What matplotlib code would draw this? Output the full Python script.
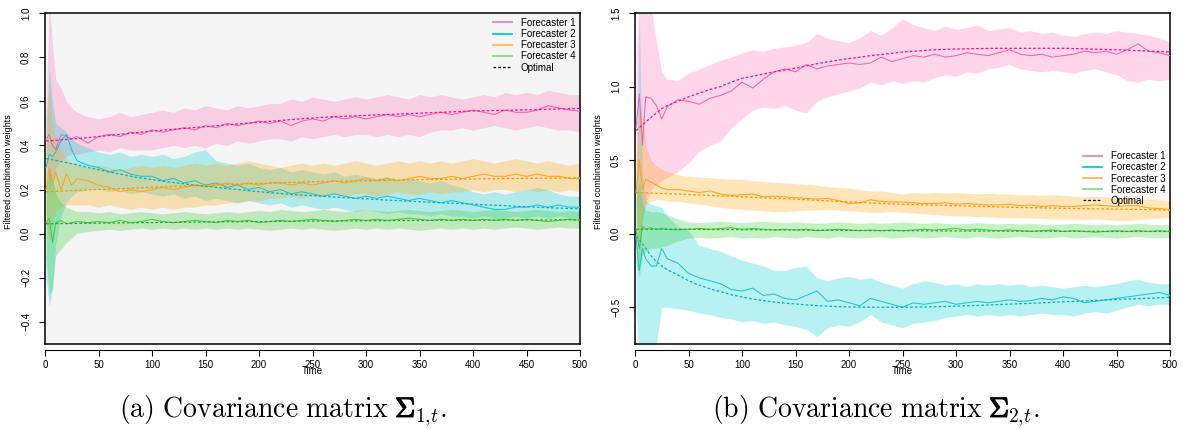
import matplotlib
matplotlib.use("Agg")
import matplotlib.pyplot as plt
from matplotlib import patheffects as pe
from matplotlib.lines import Line2D

plt.rcParams['font.family'] = ['Liberation Sans', 'DejaVu Sans']
plt.rcParams['mathtext.fontset'] = 'cm'

# ---------------- data ----------------
T = [1, 4, 7, 10, 15, 20, 25, 30,
     40, 50, 60, 70, 80, 90, 100, 110, 120, 130,
     140, 150, 160, 170, 180, 190, 200, 210, 220, 230,
     240, 250, 260, 270, 280, 290, 300, 310, 320, 330,
     340, 350, 360, 370, 380, 390, 400, 410, 420, 430,
     440, 450, 460, 470, 480, 490, 500]

x_ticks = [0, 50, 100, 150, 200, 250, 300, 350, 400, 450, 500]
labels = ["Forecaster 1", "Forecaster 2", "Forecaster 3", "Forecaster 4"]

# ---- panel (a): covariance matrix Sigma_1,t ----
L_f1_opt = [0.420, 0.421, 0.422, 0.423, 0.425, 0.427, 0.429, 0.431,
            0.435, 0.440, 0.445, 0.450, 0.455, 0.460, 0.465, 0.469, 0.473, 0.477,
            0.481, 0.485, 0.489, 0.493, 0.497, 0.501, 0.505, 0.509, 0.513, 0.517,
            0.521, 0.524, 0.527, 0.530, 0.532, 0.534, 0.536, 0.538, 0.540, 0.542,
            0.544, 0.546, 0.548, 0.550, 0.552, 0.554, 0.556, 0.557, 0.558, 0.559,
            0.560, 0.561, 0.562, 0.564, 0.565, 0.566, 0.568]
L_f1_mean = [0.43, 0.45, 0.40, 0.38, 0.45, 0.44, 0.43, 0.44,
             0.41, 0.44, 0.45, 0.44, 0.46, 0.45, 0.47, 0.46, 0.47, 0.48,
             0.47, 0.49, 0.48, 0.50, 0.49, 0.50, 0.51, 0.50, 0.51, 0.49,
             0.51, 0.52, 0.51, 0.53, 0.52, 0.53, 0.52, 0.53, 0.54, 0.53,
             0.54, 0.53, 0.54, 0.55, 0.54, 0.55, 0.56, 0.55, 0.54, 0.56,
             0.55, 0.55, 0.56, 0.58, 0.57, 0.56, 0.555]
L_f1_lo = [0.36, 0.20, 0.25, 0.30, 0.33, 0.35, 0.36, 0.36,
           0.37, 0.38, 0.37, 0.39, 0.38, 0.38, 0.38, 0.39, 0.40, 0.39,
           0.40, 0.39, 0.41, 0.40, 0.42, 0.41, 0.42, 0.43, 0.43, 0.42,
           0.44, 0.43, 0.44, 0.45, 0.44, 0.45, 0.45, 0.44, 0.45, 0.44,
           0.45, 0.44, 0.46, 0.47, 0.47, 0.48, 0.47, 0.48, 0.49, 0.48,
           0.47, 0.48, 0.49, 0.48, 0.47, 0.47, 0.46]
L_f1_hi = [0.55, 1.05, 0.85, 0.70, 0.66, 0.60, 0.57, 0.55,
           0.53, 0.52, 0.53, 0.55, 0.53, 0.54, 0.55, 0.56, 0.55, 0.57,
           0.56, 0.58, 0.57, 0.56, 0.58, 0.57, 0.58, 0.59, 0.59, 0.61,
           0.60, 0.62, 0.61, 0.60, 0.61, 0.62, 0.61, 0.62, 0.63, 0.62,
           0.61, 0.63, 0.62, 0.63, 0.62, 0.61, 0.62, 0.63, 0.62, 0.64,
           0.63, 0.64, 0.63, 0.65, 0.64, 0.63, 0.63]

L_f2_opt = [0.340, 0.338, 0.335, 0.332, 0.327, 0.322, 0.317, 0.312,
            0.300, 0.290, 0.280, 0.270, 0.260, 0.252, 0.245, 0.238, 0.232, 0.226,
            0.220, 0.215, 0.210, 0.205, 0.200, 0.195, 0.190, 0.186, 0.182, 0.178,
            0.175, 0.172, 0.169, 0.166, 0.163, 0.160, 0.158, 0.155, 0.152, 0.150,
            0.147, 0.145, 0.143, 0.140, 0.138, 0.136, 0.134, 0.131, 0.129, 0.127,
            0.124, 0.122, 0.120, 0.118, 0.116, 0.114, 0.112]
L_f2_mean = [0.30, 0.36, 0.35, 0.37, 0.42, 0.45, 0.38, 0.33,
             0.31, 0.30, 0.28, 0.29, 0.27, 0.26, 0.26, 0.24, 0.25, 0.23,
             0.24, 0.22, 0.23, 0.21, 0.22, 0.20, 0.21, 0.19, 0.20, 0.18,
             0.19, 0.18, 0.17, 0.18, 0.17, 0.16, 0.17, 0.16, 0.17, 0.16,
             0.15, 0.16, 0.15, 0.14, 0.15, 0.14, 0.13, 0.12, 0.11, 0.11,
             0.12, 0.12, 0.13, 0.12, 0.13, 0.12, 0.12]
L_f2_lo = [-0.20, -0.33, -0.25, -0.05, 0.08, 0.14, 0.17, 0.19,
           0.20, 0.20, 0.19, 0.20, 0.18, 0.19, 0.18, 0.17, 0.18, 0.16,
           0.17, 0.15, 0.16, 0.15, 0.14, 0.15, 0.14, 0.13, 0.14, 0.12,
           0.13, 0.12, 0.11, 0.12, 0.11, 0.10, 0.11, 0.10, 0.09, 0.10,
           0.09, 0.09, 0.08, 0.09, 0.08, 0.08, 0.07, 0.08, 0.07, 0.07,
           0.08, 0.07, 0.08, 0.07, 0.08, 0.07, 0.07]
L_f2_hi = [0.50, 0.75, 0.60, 0.50, 0.48, 0.46, 0.43, 0.41,
           0.39, 0.37, 0.36, 0.37, 0.35, 0.36, 0.35, 0.36, 0.34, 0.35,
           0.37, 0.38, 0.33, 0.32, 0.31, 0.32, 0.30, 0.29, 0.30, 0.28,
           0.29, 0.28, 0.27, 0.28, 0.26, 0.27, 0.26, 0.25, 0.26, 0.24,
           0.25, 0.24, 0.23, 0.24, 0.22, 0.21, 0.19, 0.18, 0.19, 0.18,
           0.19, 0.20, 0.21, 0.20, 0.18, 0.17, 0.17]

L_f3_opt = [0.190, 0.190, 0.191, 0.192, 0.193, 0.194, 0.195, 0.196,
            0.198, 0.200, 0.202, 0.204, 0.206, 0.208, 0.210, 0.212, 0.214, 0.216,
            0.218, 0.220, 0.221, 0.223, 0.224, 0.226, 0.228, 0.229, 0.231, 0.232,
            0.234, 0.235, 0.236, 0.237, 0.238, 0.239, 0.240, 0.241, 0.242, 0.243,
            0.244, 0.245, 0.245, 0.246, 0.247, 0.247, 0.248, 0.249, 0.249, 0.250,
            0.250, 0.251, 0.251, 0.252, 0.252, 0.253, 0.253]
L_f3_mean = [0.20, 0.30, 0.22, 0.28, 0.20, 0.27, 0.22, 0.25,
             0.24, 0.22, 0.21, 0.19, 0.20, 0.19, 0.20, 0.21, 0.20, 0.21,
             0.22, 0.21, 0.22, 0.23, 0.22, 0.23, 0.22, 0.23, 0.23, 0.22,
             0.23, 0.22, 0.23, 0.24, 0.23, 0.24, 0.25, 0.24, 0.25, 0.24,
             0.25, 0.26, 0.25, 0.25, 0.26, 0.25, 0.26, 0.27, 0.26, 0.26,
             0.27, 0.26, 0.27, 0.26, 0.26, 0.25, 0.25]
L_f3_lo = [0.08, -0.05, 0.05, 0.10, 0.12, 0.13, 0.13, 0.13,
           0.13, 0.12, 0.13, 0.12, 0.11, 0.12, 0.11, 0.12, 0.11, 0.12,
           0.12, 0.13, 0.13, 0.14, 0.14, 0.15, 0.15, 0.16, 0.16, 0.17,
           0.16, 0.17, 0.17, 0.18, 0.17, 0.18, 0.18, 0.17, 0.18, 0.19,
           0.18, 0.18, 0.19, 0.18, 0.19, 0.19, 0.20, 0.19, 0.20, 0.20,
           0.19, 0.20, 0.19, 0.20, 0.19, 0.20, 0.19]
L_f3_hi = [0.40, 0.68, 0.50, 0.42, 0.38, 0.34, 0.32, 0.31,
           0.30, 0.31, 0.30, 0.29, 0.30, 0.31, 0.30, 0.31, 0.30, 0.31,
           0.32, 0.31, 0.32, 0.31, 0.32, 0.33, 0.32, 0.31, 0.30, 0.31,
           0.32, 0.31, 0.32, 0.31, 0.32, 0.33, 0.32, 0.31, 0.32, 0.33,
           0.32, 0.33, 0.32, 0.33, 0.32, 0.33, 0.34, 0.33, 0.32, 0.33,
           0.34, 0.33, 0.32, 0.33, 0.32, 0.31, 0.32]

L_f4_opt = [0.045, 0.045, 0.045, 0.046, 0.046, 0.046, 0.046, 0.047,
            0.047, 0.048, 0.048, 0.049, 0.049, 0.050, 0.050, 0.051, 0.051, 0.052,
            0.052, 0.053, 0.053, 0.054, 0.054, 0.055, 0.055, 0.055, 0.056, 0.056,
            0.057, 0.057, 0.057, 0.058, 0.058, 0.058, 0.059, 0.059, 0.059, 0.060,
            0.060, 0.060, 0.060, 0.061, 0.061, 0.061, 0.061, 0.061, 0.062, 0.062,
            0.062, 0.062, 0.062, 0.062, 0.063, 0.063, 0.063]
L_f4_mean = [0.05, 0.07, -0.04, 0.05, 0.06, 0.045, 0.05, 0.055,
             0.05, 0.055, 0.05, 0.06, 0.05, 0.055, 0.065, 0.055, 0.05, 0.055,
             0.06, 0.055, 0.05, 0.06, 0.055, 0.06, 0.05, 0.055, 0.06, 0.055,
             0.06, 0.065, 0.06, 0.055, 0.06, 0.065, 0.06, 0.065, 0.06, 0.065,
             0.07, 0.065, 0.06, 0.065, 0.06, 0.065, 0.06, 0.065, 0.06, 0.065,
             0.06, 0.065, 0.06, 0.055, 0.06, 0.065, 0.06]
L_f4_lo = [-0.10, -0.28, -0.25, -0.10, -0.07, -0.04, -0.02, 0.00,
           0.010, 0.015, 0.020, 0.015, 0.020, 0.025, 0.020, 0.025, 0.020, 0.025,
           0.020, 0.025, 0.020, 0.025, 0.020, 0.025, 0.020, 0.015, 0.020, 0.025,
           0.020, 0.025, 0.020, 0.015, 0.020, 0.025, 0.020, 0.025, 0.020, 0.025,
           0.020, 0.015, 0.020, 0.025, 0.020, 0.025, 0.020, 0.025, 0.020, 0.025,
           0.030, 0.025, 0.020, 0.025, 0.030, 0.025, 0.025]
L_f4_hi = [0.20, 0.30, 0.25, 0.18, 0.14, 0.12, 0.11, 0.10,
           0.100, 0.095, 0.100, 0.090, 0.095, 0.100, 0.095, 0.090, 0.095, 0.100,
           0.095, 0.090, 0.095, 0.100, 0.095, 0.100, 0.105, 0.100, 0.110, 0.105,
           0.100, 0.105, 0.110, 0.105, 0.100, 0.105, 0.110, 0.105, 0.100, 0.105,
           0.110, 0.105, 0.100, 0.105, 0.110, 0.105, 0.100, 0.105, 0.110, 0.105,
           0.100, 0.105, 0.110, 0.105, 0.100, 0.105, 0.100]

# ---- panel (b): covariance matrix Sigma_2,t ----
R_f1_opt = [0.70, 0.72, 0.74, 0.76, 0.79, 0.82, 0.85, 0.87,
            0.900, 0.930, 0.955, 0.980, 1.000, 1.030, 1.056, 1.070, 1.085, 1.100,
            1.113, 1.125, 1.140, 1.155, 1.168, 1.180, 1.190, 1.200, 1.210, 1.218,
            1.226, 1.235, 1.240, 1.245, 1.250, 1.253, 1.255, 1.257, 1.258, 1.259,
            1.260, 1.260, 1.260, 1.260, 1.260, 1.260, 1.260, 1.258, 1.256, 1.254,
            1.252, 1.250, 1.247, 1.244, 1.241, 1.238, 1.235]
R_f1_mean = [0.72, 0.95, 0.60, 0.93, 0.92, 0.87, 0.78, 0.86,
             0.91, 0.90, 0.88, 0.92, 0.94, 0.97, 1.03, 0.99, 1.05, 1.10,
             1.12, 1.10, 1.15, 1.12, 1.14, 1.15, 1.16, 1.15, 1.16, 1.20,
             1.17, 1.19, 1.21, 1.20, 1.22, 1.20, 1.21, 1.23, 1.22, 1.21,
             1.23, 1.25, 1.22, 1.21, 1.22, 1.20, 1.21, 1.22, 1.24, 1.23,
             1.24, 1.22, 1.25, 1.29, 1.24, 1.23, 1.21]
R_f1_lo = [0.30, -0.20, 0.10, 0.20, 0.30, 0.33, 0.36, 0.38,
           0.42, 0.48, 0.56, 0.60, 0.63, 0.72, 0.78, 0.84, 0.86, 0.85,
           0.87, 0.84, 0.82, 0.90, 0.93, 0.95, 0.97, 0.99, 1.03, 1.01,
           1.04, 1.02, 1.04, 1.03, 1.06, 1.08, 1.07, 1.10, 1.09, 1.12,
           1.13, 1.15, 1.12, 1.11, 1.10, 1.11, 1.10, 1.09, 1.11, 1.12,
           1.10, 1.08, 1.04, 1.03, 1.05, 1.04, 1.05]
R_f1_hi = [1.20, 1.60, 1.60, 1.60, 1.55, 1.30, 1.10, 1.05,
           1.04, 1.09, 1.12, 1.15, 1.18, 1.20, 1.23, 1.25, 1.24, 1.26,
           1.27, 1.28, 1.30, 1.36, 1.33, 1.31, 1.30, 1.33, 1.38, 1.35,
           1.40, 1.46, 1.42, 1.40, 1.38, 1.41, 1.39, 1.40, 1.42, 1.38,
           1.39, 1.40, 1.37, 1.38, 1.36, 1.37, 1.35, 1.34, 1.36, 1.37,
           1.36, 1.38, 1.37, 1.36, 1.35, 1.33, 1.30]

R_f2_opt = [-0.02, -0.04, -0.07, -0.10, -0.15, -0.19, -0.22, -0.245,
            -0.280, -0.320, -0.350, -0.375, -0.395, -0.415, -0.430, -0.445, -0.455, -0.465,
            -0.472, -0.478, -0.484, -0.489, -0.493, -0.496, -0.498, -0.499, -0.500, -0.500,
            -0.500, -0.500, -0.499, -0.498, -0.497, -0.495, -0.493, -0.490, -0.488, -0.485,
            -0.482, -0.479, -0.476, -0.473, -0.470, -0.467, -0.463, -0.460, -0.457, -0.454,
            -0.451, -0.448, -0.445, -0.442, -0.439, -0.436, -0.433]
R_f2_mean = [-0.02, -0.25, -0.10, -0.17, -0.22, -0.22, -0.10, -0.17,
             -0.20, -0.27, -0.30, -0.32, -0.34, -0.38, -0.39, -0.37, -0.42, -0.41,
             -0.44, -0.45, -0.42, -0.39, -0.46, -0.45, -0.47, -0.49, -0.44, -0.46,
             -0.48, -0.50, -0.47, -0.48, -0.47, -0.46, -0.48, -0.47, -0.46, -0.47,
             -0.46, -0.45, -0.46, -0.455, -0.44, -0.45, -0.43, -0.44, -0.47, -0.46,
             -0.45, -0.44, -0.43, -0.42, -0.41, -0.40, -0.42]
R_f2_lo = [-0.50, -0.90, -0.90, -0.90, -0.85, -0.75, -0.50, -0.50,
           -0.51, -0.52, -0.54, -0.55, -0.57, -0.58, -0.60, -0.59, -0.61, -0.60,
           -0.62, -0.63, -0.65, -0.70, -0.64, -0.62, -0.63, -0.60, -0.55, -0.60,
           -0.62, -0.64, -0.61, -0.60, -0.59, -0.57, -0.56, -0.55, -0.56, -0.55,
           -0.56, -0.55, -0.56, -0.55, -0.54, -0.55, -0.55, -0.56, -0.54, -0.53,
           -0.54, -0.52, -0.50, -0.48, -0.49, -0.48, -0.48]
R_f2_hi = [0.20, 1.50, 0.40, 0.22, 0.20, 0.19, 0.18, 0.12,
           0.05, 0.02, -0.08, -0.10, -0.12, -0.15, -0.18, -0.20, -0.22, -0.25,
           -0.25, -0.23, -0.22, -0.30, -0.32, -0.30, -0.29, -0.31, -0.30, -0.33,
           -0.35, -0.37, -0.34, -0.32, -0.33, -0.35, -0.34, -0.36, -0.34, -0.35,
           -0.34, -0.35, -0.34, -0.36, -0.35, -0.36, -0.37, -0.36, -0.35, -0.36,
           -0.35, -0.34, -0.32, -0.31, -0.33, -0.34, -0.34]

R_f3_opt = [0.280, 0.279, 0.278, 0.277, 0.276, 0.275, 0.274, 0.272,
            0.270, 0.266, 0.263, 0.260, 0.257, 0.254, 0.250, 0.247, 0.244, 0.241,
            0.238, 0.235, 0.231, 0.227, 0.223, 0.219, 0.215, 0.212, 0.209, 0.206,
            0.203, 0.200, 0.198, 0.196, 0.194, 0.192, 0.190, 0.188, 0.186, 0.184,
            0.182, 0.180, 0.178, 0.177, 0.175, 0.174, 0.172, 0.171, 0.170, 0.169,
            0.168, 0.167, 0.166, 0.165, 0.164, 0.162, 0.160]
R_f3_mean = [0.28, 0.50, 0.30, 0.37, 0.35, 0.33, 0.31, 0.30,
             0.30, 0.29, 0.28, 0.29, 0.27, 0.26, 0.265, 0.27, 0.25, 0.255,
             0.25, 0.245, 0.24, 0.235, 0.24, 0.225, 0.205, 0.21, 0.23, 0.22,
             0.215, 0.215, 0.21, 0.205, 0.205, 0.21, 0.20, 0.205, 0.20, 0.195,
             0.195, 0.20, 0.19, 0.195, 0.185, 0.19, 0.185, 0.185, 0.19, 0.195,
             0.19, 0.185, 0.19, 0.19, 0.175, 0.17, 0.165]
R_f3_lo = [0.10, -0.20, 0.10, 0.20, 0.22, 0.23, 0.23, 0.22,
           0.22, 0.21, 0.20, 0.19, 0.18, 0.17, 0.165, 0.16, 0.155, 0.15,
           0.15, 0.155, 0.16, 0.16, 0.165, 0.16, 0.155, 0.15, 0.145, 0.145,
           0.15, 0.145, 0.14, 0.135, 0.13, 0.125, 0.12, 0.12, 0.115, 0.115,
           0.11, 0.11, 0.11, 0.105, 0.105, 0.10, 0.10, 0.10, 0.095, 0.10,
           0.095, 0.09, 0.09, 0.095, 0.10, 0.105, 0.11]
R_f3_hi = [0.50, 0.85, 0.80, 0.60, 0.50, 0.46, 0.44, 0.42,
           0.40, 0.39, 0.385, 0.38, 0.375, 0.37, 0.37, 0.36, 0.355, 0.35,
           0.345, 0.34, 0.335, 0.33, 0.32, 0.315, 0.31, 0.30, 0.29, 0.29,
           0.28, 0.27, 0.28, 0.275, 0.28, 0.275, 0.28, 0.275, 0.27, 0.275,
           0.27, 0.27, 0.265, 0.265, 0.26, 0.265, 0.26, 0.255, 0.25, 0.255,
           0.25, 0.245, 0.24, 0.235, 0.235, 0.23, 0.225]

R_f4_opt = [0.030, 0.030, 0.030, 0.030, 0.030, 0.030, 0.030, 0.030,
            0.030, 0.030, 0.029, 0.029, 0.028, 0.028, 0.027, 0.027, 0.026, 0.026,
            0.025, 0.025, 0.024, 0.024, 0.023, 0.023, 0.022, 0.022, 0.021, 0.021,
            0.021, 0.020, 0.020, 0.020, 0.019, 0.019, 0.019, 0.018, 0.018, 0.018,
            0.018, 0.017, 0.017, 0.017, 0.017, 0.016, 0.016, 0.016, 0.016, 0.016,
            0.015, 0.015, 0.015, 0.015, 0.015, 0.015, 0.015]
R_f4_mean = [0.03, -0.10, 0.05, 0.03, 0.04, 0.03, 0.035, 0.03,
             0.025, 0.03, 0.035, 0.03, 0.035, 0.04, 0.03, 0.035, 0.03, 0.025,
             0.03, 0.025, 0.03, 0.02, 0.025, 0.03, 0.025, 0.02, 0.025, 0.02,
             0.025, 0.02, 0.025, 0.03, 0.025, 0.03, 0.035, 0.025, 0.03, 0.025,
             0.02, 0.025, 0.02, 0.015, 0.02, 0.025, 0.015, 0.02, 0.015, 0.01,
             0.015, 0.02, 0.015, 0.02, 0.015, 0.02, 0.015]
R_f4_lo = [-0.20, -0.30, -0.15, -0.12, -0.10, -0.10, -0.09, -0.08,
           -0.05, -0.03, -0.025, -0.03, -0.025, -0.02, -0.03, -0.025, -0.03, -0.02,
           -0.025, -0.03, -0.02, -0.025, -0.03, -0.02, -0.025, -0.03, -0.025, -0.02,
           -0.03, -0.025, -0.02, -0.03, -0.025, -0.02, -0.025, -0.03, -0.02, -0.025,
           -0.03, -0.025, -0.02, -0.025, -0.03, -0.025, -0.02, -0.03, -0.025, -0.02,
           -0.025, -0.03, -0.025, -0.02, -0.025, -0.03, -0.025]
R_f4_hi = [0.25, 0.35, 0.20, 0.16, 0.15, 0.15, 0.14, 0.13,
           0.10, 0.08, 0.075, 0.08, 0.085, 0.08, 0.075, 0.08, 0.085, 0.08,
           0.075, 0.08, 0.075, 0.07, 0.075, 0.08, 0.075, 0.07, 0.075, 0.07,
           0.075, 0.08, 0.075, 0.07, 0.075, 0.07, 0.065, 0.07, 0.075, 0.07,
           0.065, 0.07, 0.065, 0.07, 0.065, 0.06, 0.065, 0.07, 0.065, 0.06,
           0.065, 0.06, 0.065, 0.07, 0.065, 0.06, 0.065]

panels = [
    dict(means=[L_f1_mean, L_f2_mean, L_f3_mean, L_f4_mean],
         los=[L_f1_lo, L_f2_lo, L_f3_lo, L_f4_lo],
         his=[L_f1_hi, L_f2_hi, L_f3_hi, L_f4_hi],
         opts=[L_f1_opt, L_f2_opt, L_f3_opt, L_f4_opt],
         ylim=(-0.5, 1.0), yticks=[-0.4, -0.2, 0.0, 0.2, 0.4, 0.6, 0.8, 1.0],
         face='#f5f5f5', leg_loc='upper right', leg_anchor=(1.0, 1.0)),
    dict(means=[R_f1_mean, R_f2_mean, R_f3_mean, R_f4_mean],
         los=[R_f1_lo, R_f2_lo, R_f3_lo, R_f4_lo],
         his=[R_f1_hi, R_f2_hi, R_f3_hi, R_f4_hi],
         opts=[R_f1_opt, R_f2_opt, R_f3_opt, R_f4_opt],
         ylim=(-0.75, 1.5), yticks=[-0.5, 0.0, 0.5, 1.0, 1.5],
         face='white', leg_loc='center right', leg_anchor=(1.0, 0.5)),
]

# ---------------- styles ----------------
band_col = ['#ff69b4', '#00ced1', '#ffa500', '#32cd32']
line_col = ['#f064b4', '#20c4cf', '#ffa31a', '#45c845']
opt_col = ['#ee1590', '#00b4c4', '#f59b00', '#22b022']
leg_col = ['#f080c4', '#00cfd4', '#ffb84d', '#86e086']

W, H = 1183, 429
fig = plt.figure(figsize=(W / 100, H / 100), dpi=100)

ax_rects = [[45 / W, 1 - 344 / H, 535 / W, 331 / H],
            [635 / W, 1 - 344 / H, 535 / W, 331 / H]]

for p, rect in zip(panels, ax_rects):
    ax = fig.add_axes(rect)
    ax.set_facecolor(p['face'])
    for i in range(4):
        ax.fill_between(T, p['los'][i], p['his'][i], color=band_col[i],
                        alpha=0.28, linewidth=0, zorder=1)
    for i in range(4):
        ax.plot(T, p['means'][i], color=line_col[i], lw=0.75, zorder=3)
        ax.plot(T, p['opts'][i], color=opt_col[i], lw=0.9,
                linestyle=(0, (2.2, 1.6)), zorder=4)
    ax.set_xlim(0, 500)
    ax.set_ylim(*p['ylim'])
    ax.set_xticks(x_ticks)
    ax.set_xticklabels([str(v) for v in x_ticks])
    ax.set_yticks(p['yticks'])
    ax.set_yticklabels(['%.1f' % v if v >= 0 else '\u2212%.1f' % (-v)
                        for v in p['yticks']])
    ax.tick_params(axis='x', length=4.3, width=0.8, labelsize=7, pad=3)
    ax.tick_params(axis='y', length=4.0, width=0.8, labelsize=7, pad=6,
                   labelrotation=90)
    for lab in ax.get_yticklabels():
        lab.set_va('center')
    ax.spines['bottom'].set_position(('outward', 4.5))
    ax.spines['bottom'].set_linewidth(0.8)
    for s in ['left', 'top', 'right']:
        ax.spines[s].set_linewidth(1.1)
    ax.add_line(Line2D([0, 1], [0, 0], transform=ax.transAxes, color='black',
                       lw=1.1, clip_on=False, zorder=10))
    ax.set_ylabel('Filtered combination weights', fontsize=6.5)
    ax.yaxis.set_label_coords(-0.06, 0.52)
    ax.text(0.5, -0.082, 'Time', transform=ax.transAxes, ha='center',
            va='center', fontsize=7)
    handles = [Line2D([], [], color=leg_col[i], lw=1.3) for i in range(4)]
    handles.append(Line2D([], [], color='black', lw=0.9, linestyle=(0, (2.2, 1.6))))
    ax.legend(handles, labels + ['Optimal'], loc=p['leg_loc'],
              bbox_to_anchor=p['leg_anchor'], frameon=False, fontsize=7,
              handlelength=1.9, handletextpad=0.9, labelspacing=0.12,
              borderaxespad=0.2, borderpad=0.3)

# ---------------- captions (three pieces side by side) ----------------
FS = 20
fig.canvas.draw()
rend = fig.canvas.get_renderer()
captions = [(283, 'a', '1'), (876, 'b', '2')]
yb = 1 - 417 / H
for xc, letter, idx in captions:
    pre = r'\mathrm{(' + letter + r')\ Covariance\ matrix\ }'
    s_pre_sig = '$' + pre + r'\Sigma$'
    s_sig = r'$\Sigma$'
    s_sub = r'${}_{' + idx + r',\!t}.$'
    widths = {}
    for key, s in [('ps', s_pre_sig), ('s', s_sig), ('sub', s_sub)]:
        tt = fig.text(0, 0, s, fontsize=FS)
        widths[key] = tt.get_window_extent(rend).width
        tt.remove()
    total = widths['ps'] + widths['sub'] - 2
    x0 = xc - total / 2.0
    w_pre = widths['ps'] - widths['s']
    fig.text(x0 / W, yb, '$' + pre + '$', ha='left', va='baseline', fontsize=FS)
    fig.text((x0 + w_pre) / W, yb, s_sig, ha='left', va='baseline', fontsize=FS,
             path_effects=[pe.withStroke(linewidth=0.9, foreground='black')])
    fig.text((x0 + widths['ps'] - 2) / W, yb, s_sub, ha='left', va='baseline',
             fontsize=FS)

fig.savefig('out.png', dpi=100)
